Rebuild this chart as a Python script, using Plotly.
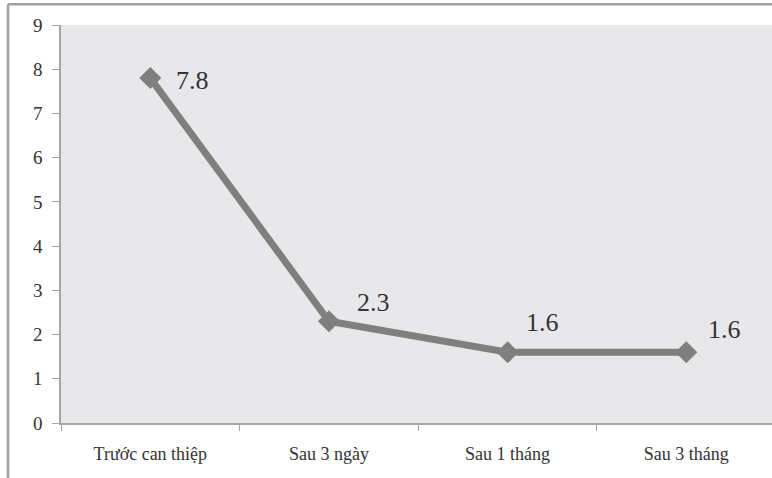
import plotly.graph_objects as go

categories = ["Trước can thiệp", "Sau 3 ngày", "Sau 1 tháng", "Sau 3 tháng"]
values = [7.8, 2.3, 1.6, 1.6]
value_labels = ["7.8", "2.3", "1.6", "1.6"]
y_ticks = [0, 1, 2, 3, 4, 5, 6, 7, 8, 9]

# label offsets (px) relative to each point
label_dx = [24, 26, 16, 20]
label_dy = [-2, 19, 30, 23]

serif = "Liberation Serif"
fig = go.Figure()
fig.add_trace(go.Scatter(
    x=categories, y=values, mode="lines+markers",
    line=dict(color="#7f7f7f", width=7),
    marker=dict(symbol="diamond", size=17, color="#7f7f7f"),
    showlegend=False, hoverinfo="skip",
))
for c, v, t, dx, dy in zip(categories, values, value_labels, label_dx, label_dy):
    fig.add_annotation(x=c, y=v, text=t, showarrow=False, xanchor="left", yanchor="middle",
                       xshift=dx, yshift=dy, font=dict(family=serif, size=26, color="#333333"))

fig.update_layout(
    width=772, height=478,
    margin=dict(l=61, r=0, t=25, b=55),
    paper_bgcolor="white", plot_bgcolor="#e8e8ea",
    font=dict(family=serif),
    xaxis=dict(type="category", range=[-0.5, 3.48], showgrid=False, zeroline=False,
               showline=True, linecolor="#a6a6a6", linewidth=1.5,
               ticks="outside", tickson="boundaries", ticklen=6, tickcolor="#a6a6a6",
               ticklabelstandoff=14,
               tickfont=dict(family=serif, size=18, color="#333333")),
    yaxis=dict(range=[0, 9], tickvals=y_ticks, showgrid=False, zeroline=False,
               showline=True, linecolor="#a6a6a6", linewidth=1.5,
               ticks="outside", ticklen=7, tickcolor="#a6a6a6",
               ticklabelstandoff=6,
               tickfont=dict(family=serif, size=19, color="#333333")),
    shapes=[
        dict(type="line", xref="paper", yref="paper", x0=-0.0745, x1=1.01, y0=1.052, y1=1.052,
             line=dict(color="#a0a0a0", width=2.5)),
        dict(type="line", xref="paper", yref="paper", x0=-0.0745, x1=-0.0745, y0=1.052, y1=-0.2,
             line=dict(color="#a0a0a0", width=2.5)),
    ],
)
fig.write_html("out.html")
